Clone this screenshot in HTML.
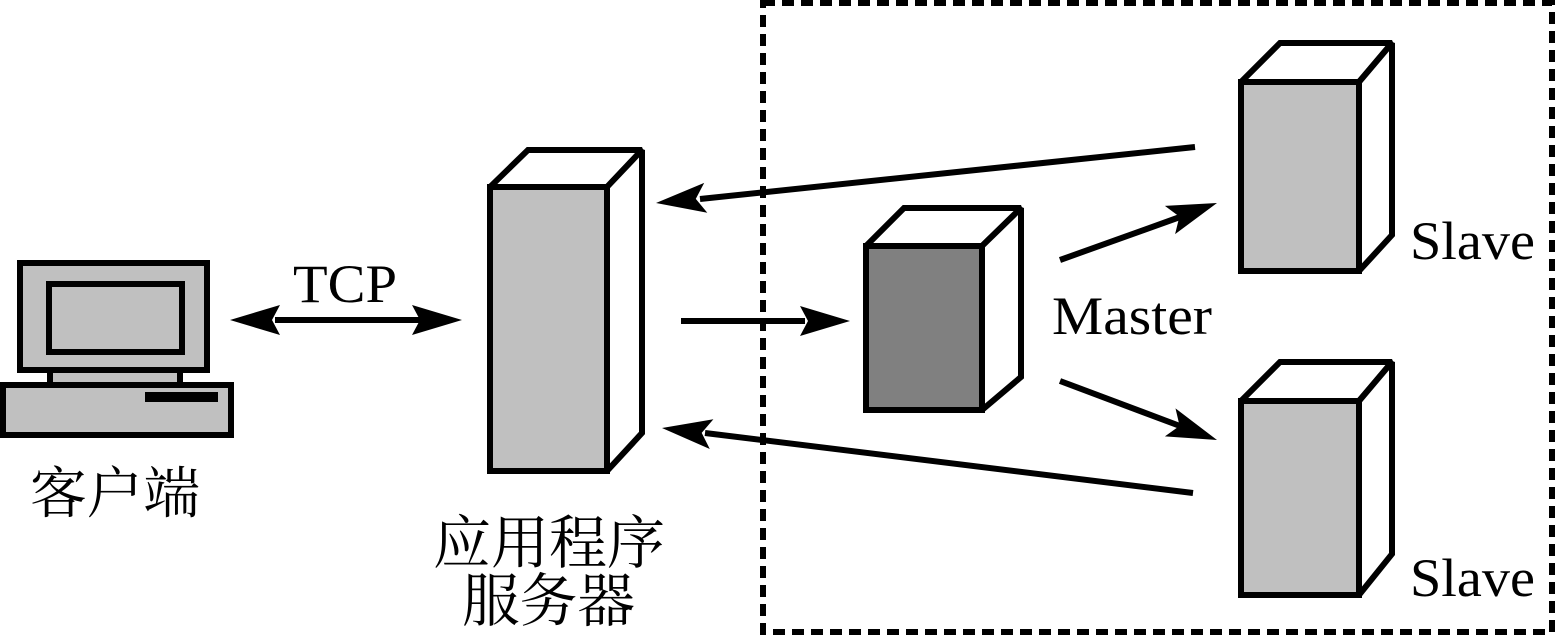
<!DOCTYPE html>
<html><head><meta charset="utf-8"><style>
html,body{margin:0;padding:0;background:#fff;}
svg{display:block;}
text{font-family:"Liberation Serif","Noto Serif CJK SC",serif;fill:#000;}
</style></head><body>
<svg width="1557" height="636" viewBox="0 0 1557 636" xmlns="http://www.w3.org/2000/svg">
<!-- dashed box -->
<rect x="763" y="3" width="789" height="629" fill="none" stroke="#000" stroke-width="6" stroke-dasharray="12,7"/>

<!-- computer -->
<g stroke="#000" stroke-width="6" fill="#c0c0c0">
<rect x="50" y="369" width="130" height="17"/>
<rect x="3" y="385" width="228" height="50"/>
<rect x="20" y="263" width="187" height="107"/>
<rect x="49" y="284" width="133" height="68"/>
</g>
<rect x="145" y="392" width="73" height="10" fill="#000"/>

<g stroke="#000" stroke-width="6" stroke-linejoin="miter" stroke-miterlimit="1.5" fill="#fff">
<!-- app server -->
<polygon points="490,187 528,150 642,150 607,187"/>
<polygon points="607,187 642,150 642,433 607,471"/>
<rect x="490" y="187" width="117" height="284" fill="#c0c0c0"/>
<!-- master -->
<polygon points="866,246 904,208 1021,208 982,246"/>
<polygon points="982,246 1021,208 1021,377 982,410"/>
<rect x="866" y="246" width="116" height="164" fill="#808080"/>
<!-- slave 1 -->
<polygon points="1241,82 1280,43 1392,43 1359,82"/>
<polygon points="1359,82 1392,43 1392,235 1359,271"/>
<rect x="1241" y="82" width="118" height="189" fill="#c0c0c0"/>
<!-- slave 2 -->
<polygon points="1241,401 1280,362 1392,362 1359,401"/>
<polygon points="1359,401 1392,362 1392,554 1359,595"/>
<rect x="1241" y="401" width="118" height="194" fill="#c0c0c0"/>
</g>

<!-- arrows -->
<g stroke="#000" stroke-width="6" fill="none">
<line x1="275" y1="320" x2="420" y2="320"/>
<line x1="681" y1="321" x2="805" y2="321"/>
<line x1="1195" y1="147" x2="700" y2="199"/>
<line x1="1193" y1="493" x2="705" y2="433"/>
<line x1="1060" y1="260" x2="1180" y2="217"/>
<line x1="1060" y1="381" x2="1180" y2="426"/>
</g>
<g fill="#000">
<polygon points="230,320 280,305 272,320 280,335"/>
<polygon points="462,320 412,305 420,320 412,335"/>
<polygon points="850,321 800,306 808,321 800,336"/>
<polygon points="656,203 704.2,182.9 695.8,198.9 707.3,212.7"/>
<polygon points="662,428 713.4,419.2 701.7,432.9 709.8,449"/>
<polygon points="1217,203 1164.9,205.9 1179.4,216.6 1175.1,234.1"/>
<polygon points="1217,440 1175.5,408.4 1179.6,425.9 1164.9,436.4"/>
</g>

<!-- labels -->
<text x="293" y="302" font-size="54" textLength="104" lengthAdjust="spacingAndGlyphs">TCP</text>
<text x="30" y="513" font-size="56" textLength="170" lengthAdjust="spacingAndGlyphs">客户端</text>
<text x="433" y="563" font-size="58" textLength="232" lengthAdjust="spacingAndGlyphs">应用程序</text>
<text x="462" y="621" font-size="58" textLength="173" lengthAdjust="spacingAndGlyphs">服务器</text>
<text x="1052" y="334" font-size="54" textLength="160" lengthAdjust="spacingAndGlyphs">Master</text>
<text x="1410" y="259" font-size="54" textLength="125" lengthAdjust="spacingAndGlyphs">Slave</text>
<text x="1410" y="596" font-size="54" textLength="125" lengthAdjust="spacingAndGlyphs">Slave</text>
</svg>
</body></html>
